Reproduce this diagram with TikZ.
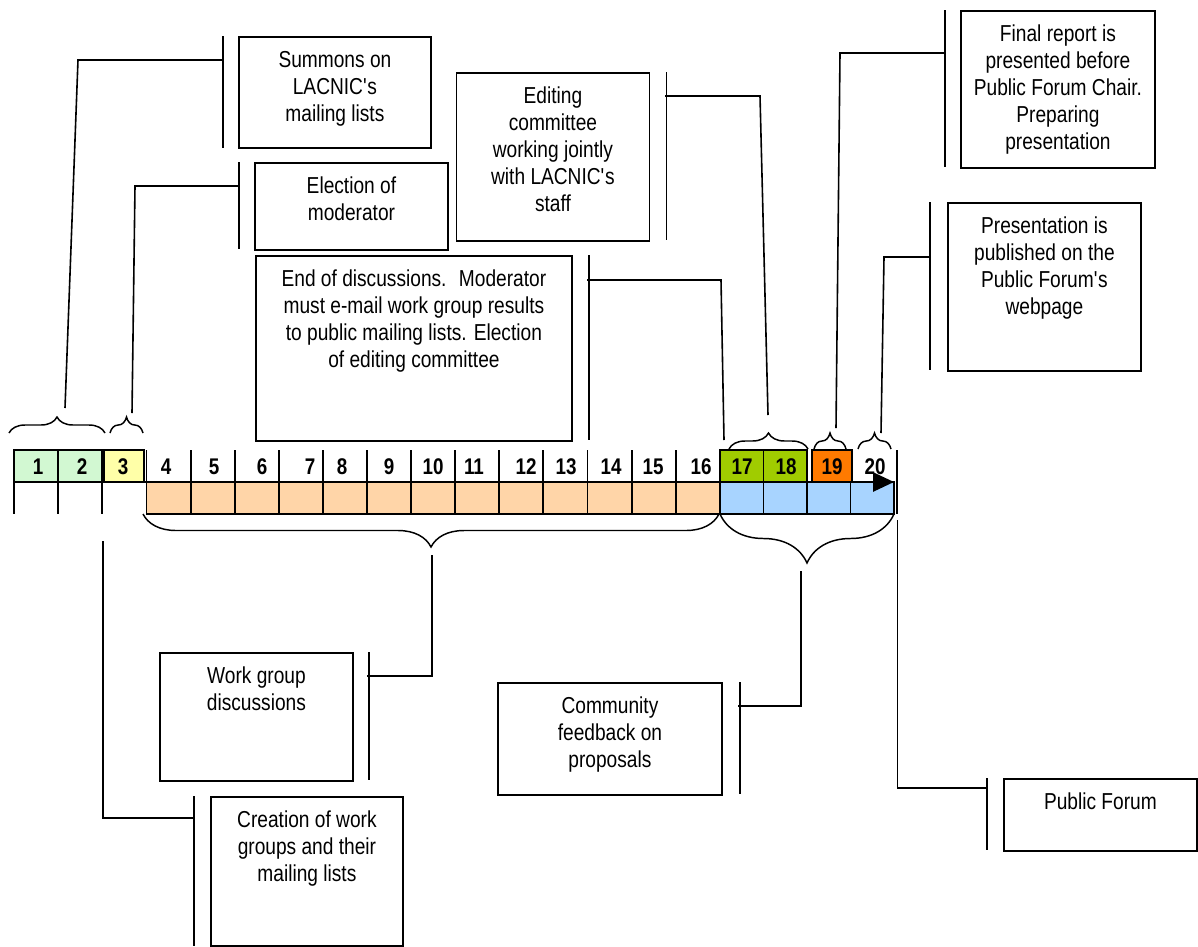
\documentclass[tikz,border=0pt]{standalone}
\usepackage{fontspec}
\setmainfont[FakeStretch=0.83]{Liberation Sans}
\usetikzlibrary{decorations.pathreplacing,arrows.meta}

\definecolor{palegreen}{HTML}{D2F8D2}
\definecolor{paleyellow}{HTML}{FFFFA8}
\definecolor{peach}{HTML}{FFD5A8}
\definecolor{skyblue}{HTML}{A8D4FF}
\definecolor{lime}{HTML}{A0CC00}
\definecolor{deeporange}{HTML}{FF7A00}

% text of a callout box, set from the top
\newcommand{\boxtext}[3]{\parbox[t][#2][t]{#1}{\vspace*{9pt}\centering\strut #3}}

\tikzset{
	box/.style={draw, line width=1.4pt, anchor=north west, inner sep=0pt, font=\fontsize{17.3}{20.25}\selectfont},
	bar/.style={line width=1.2pt},
	conn/.style={line width=1.2pt},
	cell/.style={draw, line width=1.4pt},
	num/.style={font=\fontsize{17}{18}\selectfont\bfseries},
	brc/.style={decorate, decoration={brace, amplitude=#1}, line width=1.1pt}
}

\begin{document}
\begin{tikzpicture}[x=0.75pt, y=-0.75pt]
	\useasboundingbox (0,0) rectangle (1198,946);

	% time line
	\foreach \i in {0,...,12} \draw[cell, fill=peach] (146.5+44.1*\i,482) rectangle ++(44.1,32);
	\foreach \x in {720,763.5,807,850.5} \draw[cell, fill=skyblue] (\x,482) rectangle ++(43.5,32);
	\foreach \x in {14,58,102} \draw[cell] (\x,482) -- ++(0,32);
	\foreach \i in {0,...,12} \draw[cell] (146.5+44.1*\i,450) -- ++(0,32);
	\draw[cell, fill=palegreen] (14,450) rectangle (58,482);
	\draw[cell, fill=palegreen] (58,450) rectangle (102,482);
	\draw[cell, fill=paleyellow] (104,450) rectangle (144,482);
	\draw[cell, fill=lime] (720,450) rectangle (763.5,482);
	\draw[cell, fill=lime] (763.5,450) rectangle (807,482);
	\draw[cell, fill=deeporange] (812,450) rectangle (852,482);
	\draw[cell] (897,450) -- (897,514);
	\draw[line width=2pt, -{Triangle[length=15.75pt, width=14.25pt]}] (14,482) -- (894,482);

	\foreach \n/\x in {1/38, 2/82, 3/123, 4/166, 5/214, 6/262, 7/310, 8/342, 9/389, 10/433,
		11/474, 12/526, 13/566, 14/611, 15/653, 16/701, 17/742, 18/786, 19/832, 20/875}
		\node[num] (n\n) at (\x,467) {\n};

	% braces
	\draw[brc=12pt] (9,433) -- (105,433);
	\draw[brc=12pt] (110,433) -- (143,433);
	\draw[brc=12pt] (729,449) -- (808,449);
	\draw[brc=12pt] (814,449) -- (846,449);
	\draw[brc=12pt] (858,449) -- (891,449);
	\draw[brc=24.75pt] (719,514) -- (143,514);
	\draw[brc=36.75pt] (894,514) -- (720,514);

	\coordinate (tip12) at (65,408);
	\coordinate (tip3) at (132,413);
	\coordinate (tip1718) at (768,415);
	\coordinate (cell17) at (724,440);
	\coordinate (tip19) at (836,428);
	\coordinate (tip20) at (881,433);
	\coordinate (tip416) at (432,555);
	\coordinate (gap3) at (103,541);
	\coordinate (tip1720) at (801,571);
	\coordinate (end20) at (897.5,520);

	% callouts above
	\node[box] (summons) at (238,36) {\boxtext{144pt}{83.25pt}{Summons on\\LACNIC\textquotesingle s\\mailing lists}};
	\draw[bar] (summons.north west) ++(-15,0) -- ++(0,112);
	\coordinate (sumbar) at (223,60);
	\draw[conn] (sumbar) -- ++(-145,0) -- (tip12);

	\node[box] (election) at (254,162) {\boxtext{144.75pt}{65.25pt}{Election of\\moderator}};
	\draw[bar] (election.north west) ++(-15,0) -- ++(0,87);
	\coordinate (elebar) at (239,186);
	\draw[conn] (elebar) -- ++(-104,0) -- (tip3);

	\node[box] (editing) at (455.5,72) {\boxtext{144.75pt}{126pt}{Editing\\committee\\working jointly\\with LACNIC\textquotesingle s\\staff}};
	\draw[bar] (editing.north east) ++(16,0) -- ++(0,168);
	\coordinate (edibar) at (665,96);
	\draw[conn] (edibar) -- ++(95,0) -- (tip1718);

	\node[box] (enddisc) at (255,255) {\boxtext{237pt}{138.75pt}{End of discussions.~ Moderator\\must e-mail work group results\\to public mailing lists. Election\\of editing committee}};
	\draw[bar] (enddisc.north east) ++(16,0) -- ++(0,185);
	\coordinate (endbar) at (587,280);
	\draw[conn] (endbar) -- ++(134,0) -- (cell17);

	\node[box] (final) at (960,10) {\boxtext{145.5pt}{117.75pt}{Final report is\\presented before\\Public Forum Chair.\\Preparing\\presentation}};
	\draw[bar] (final.north west) ++(-15,0) -- ++(0,157);
	\coordinate (finbar) at (945,53);
	\draw[conn] (finbar) -- ++(-105,0) -- (tip19);

	\node[box] (present) at (947,202) {\boxtext{144.75pt}{126pt}{Presentation is\\published on the\\Public Forum\textquotesingle s\\webpage}};
	\draw[bar] (present.north west) ++(-17,0) -- ++(0,168);
	\coordinate (prebar) at (930,257);
	\draw[conn] (prebar) -- ++(-46,0) -- (tip20);

	% callouts below
	\node[box] (workgroup) at (159,652) {\boxtext{144.75pt}{96pt}{Work group\\discussions}};
	\draw[bar] (workgroup.north east) ++(15,0) -- ++(0,128);
	\coordinate (wgbar) at (367,676);
	\draw[conn] (wgbar) -- ++(65,0) -- (tip416);

	\node[box] (creation) at (210,796) {\boxtext{144pt}{111.75pt}{Creation of work\\groups and their\\mailing lists}};
	\draw[bar] (creation.north west) ++(-16,0) -- ++(0,150);
	\coordinate (crebar) at (194,818);
	\draw[conn] (crebar) -- ++(-91,0) -- (gap3);

	\node[box] (community) at (497,682) {\boxtext{168pt}{84pt}{Community\\feedback on\\proposals}};
	\draw[bar] (community.north east) ++(17,0) -- ++(0,112);
	\coordinate (combar) at (738,706);
	\draw[conn] (combar) -- ++(63,0) -- (tip1720);

	\node[box] (public) at (1003,778) {\boxtext{144.75pt}{54pt}{Public Forum}};
	\draw[bar] (public.north west) ++(-16,0) -- ++(0,72);
	\coordinate (pubbar) at (987,788);
	\draw[conn] (pubbar) -- ++(-89.5,0) -- (end20);
\end{tikzpicture}
\end{document}
